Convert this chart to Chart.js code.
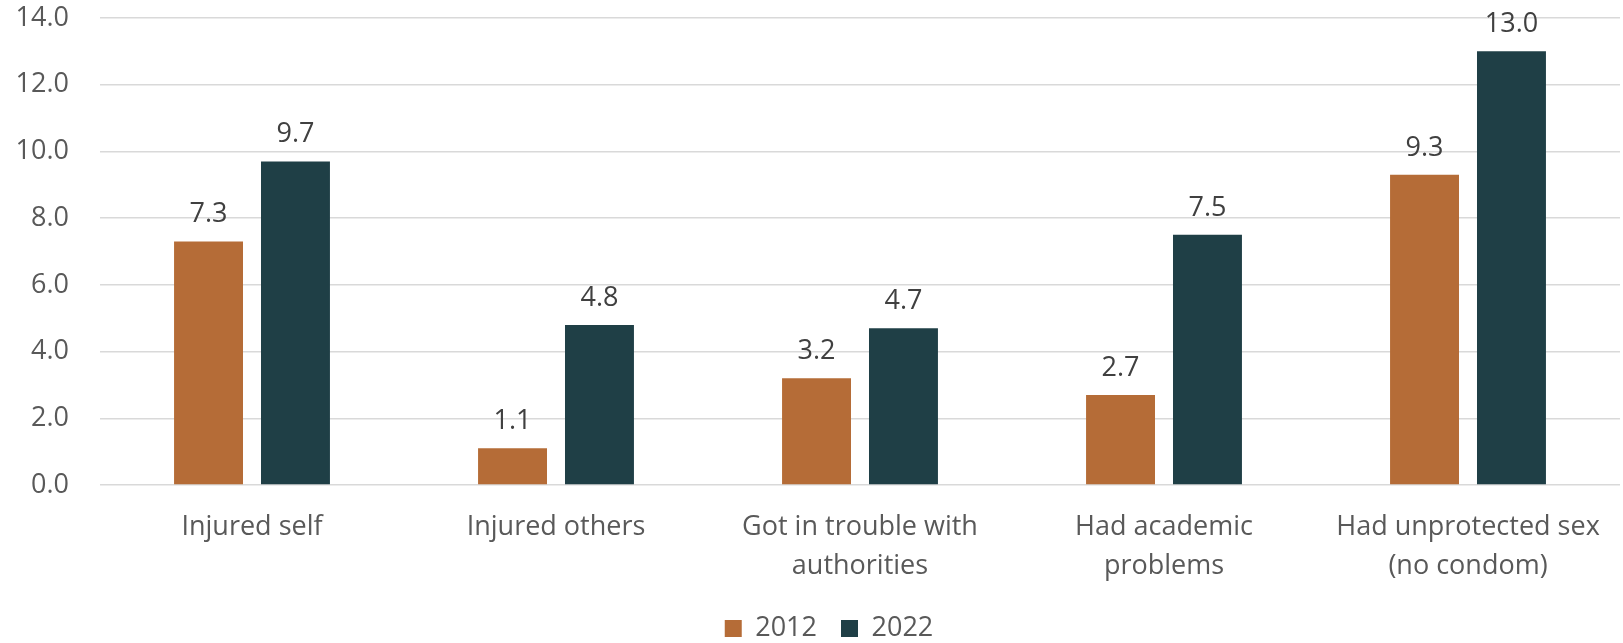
<!DOCTYPE html>
<html>
<head>
<meta charset="utf-8">
<script src="https://cdn.jsdelivr.net/npm/chart.js@4"></script>
<style>
  html, body { margin: 0; padding: 0; background: #fff; }
  #wrap { width: 1623px; height: 643px; }
</style>
</head>
<body>
<div id="wrap"><canvas id="chart"></canvas></div>
<script>
const categories = [
    'Injured self',
    'Injured others',
    ['Got in trouble with', 'authorities'],
    ['Had academic', 'problems'],
    ['Had unprotected sex', '(no condom)']
];
const values2012 = [7.3, 1.1, 3.2, 2.7, 9.3];
const values2022 = [9.7, 4.8, 4.7, 7.5, 13.0];
const yTicks = [0, 2, 4, 6, 8, 10, 12, 14];

const FONT = "'Open Sans', 'Liberation Sans', sans-serif";

// draws the value above each bar
const valueLabels = {
    id: 'valueLabels',
    afterDatasetsDraw(chart) {
        const ctx = chart.ctx;
        ctx.save();
        ctx.font = '27px ' + FONT;
        ctx.fillStyle = '#404040';
        ctx.textAlign = 'center';
        ctx.textBaseline = 'alphabetic';
        chart.data.datasets.forEach((ds, i) => {
            chart.getDatasetMeta(i).data.forEach((bar, j) => {
                ctx.fillText(ds.data[j].toFixed(1), bar.x, bar.y - 19);
            });
        });
        ctx.restore();
    }
};

// nudge the legend a little right, like the original
const legendShift = {
    id: 'legendShift',
    afterLayout(chart) {
        if (chart.legend) {
            chart.legend.left += 19;
            chart.legend.right += 19;
        }
    }
};

const ctx = document.getElementById('chart').getContext('2d');
new Chart(ctx, {
    type: 'bar',
    data: {
        labels: categories,
        datasets: [{
            label: '2012',
            data: values2012,
            backgroundColor: '#B56C37'
        }, {
            label: '2022',
            data: values2022,
            backgroundColor: '#1F3F46'
        }]
    },
    options: {
        responsive: true,
        maintainAspectRatio: false,
        animation: false,
        categoryPercentage: 0.572,
        barPercentage: 0.793,
        layout: { padding: { top: 18, right: 3, bottom: -9, left: 0 } },
        plugins: {
            tooltip: { enabled: false },
            legend: {
                position: 'bottom',
                labels: {
                    boxWidth: 17,
                    boxHeight: 17,
                    padding: 24,
                    color: '#595959',
                    font: { family: FONT, size: 27 }
                }
            }
        },
        scales: {
            x: {
                grid: { display: false },
                border: { display: false },
                ticks: {
                    color: '#595959',
                    padding: 15,
                    maxRotation: 0,
                    autoSkip: false,
                    font: { family: FONT, size: 27, lineHeight: 1.45 }
                },
                afterFit(scale) { scale.height = 106; }
            },
            y: {
                min: 0,
                max: 14,
                afterBuildTicks(scale) { scale.ticks = yTicks.map(v => ({ value: v })); },
                grid: { color: '#d9d9d9', lineWidth: 1.5, drawTicks: false },
                border: { display: false },
                ticks: {
                    color: '#595959',
                    padding: 31,
                    font: { family: FONT, size: 27 },
                    callback: v => v.toFixed(1)
                },
                afterFit(scale) {
                    scale.width = 100;
                    scale.paddingTop = 0;
                    scale.paddingBottom = 0;
                }
            }
        }
    },
    plugins: [valueLabels, legendShift]
});
</script>
</body>
</html>
